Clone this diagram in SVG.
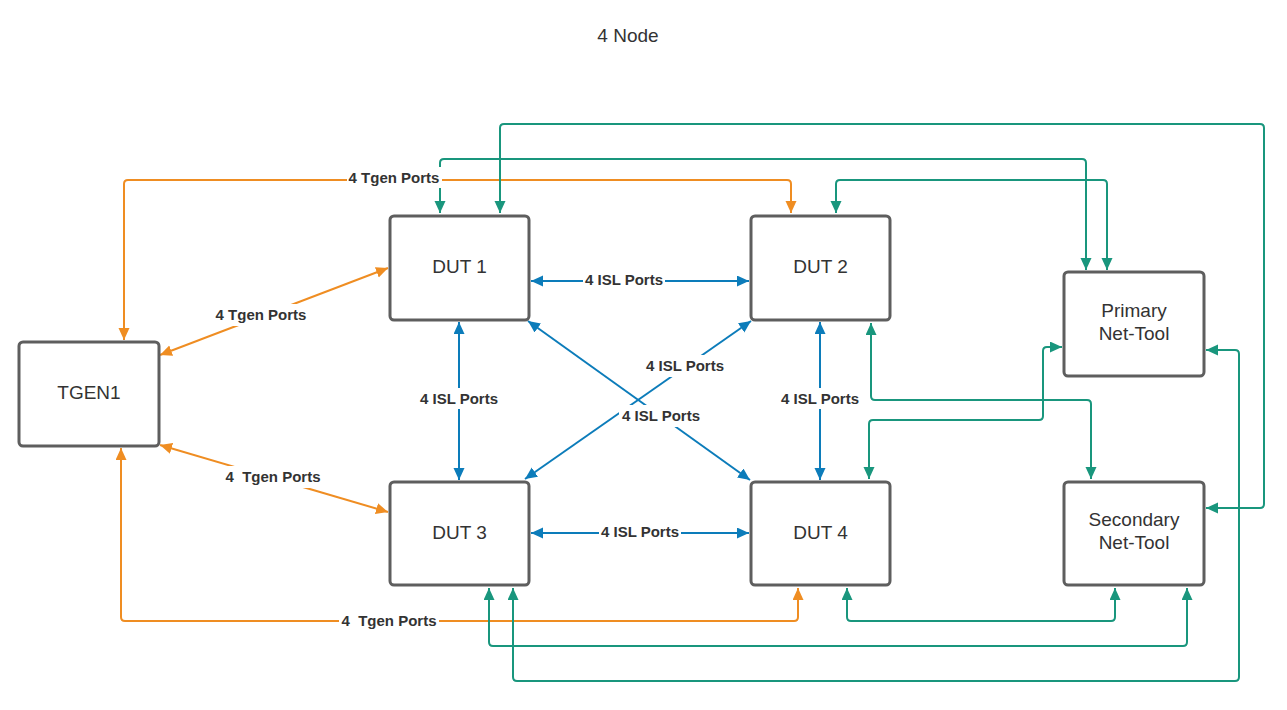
<svg xmlns="http://www.w3.org/2000/svg" width="1287" height="710" viewBox="0 0 1287 710">
<style>
.box{fill:#fff;stroke:#5e5e5e;stroke-width:3}
.nt{font-family:"Liberation Sans",Arial,sans-serif;font-size:19px;fill:#333;text-anchor:middle}
.lb{font-family:"Liberation Sans",Arial,sans-serif;font-size:15px;font-weight:bold;fill:#333;text-anchor:middle;white-space:pre}
.bg{fill:#fff}
.or{fill:none;stroke:#ef8d22;stroke-width:2;marker-start:url(#ao);marker-end:url(#ao)}
.bl{fill:none;stroke:#0c7cba;stroke-width:2;marker-start:url(#ab);marker-end:url(#ab)}
.tl{fill:none;stroke:#19967d;stroke-width:2;marker-start:url(#at);marker-end:url(#at)}
</style>
<defs>
<marker id="ao" markerUnits="userSpaceOnUse" markerWidth="14" markerHeight="12" refX="12" refY="5.5" orient="auto-start-reverse"><path d="M0,0 L12,5.5 L0,11 z" fill="#ef8d22"/></marker>
<marker id="ab" markerUnits="userSpaceOnUse" markerWidth="14" markerHeight="12" refX="12" refY="5.5" orient="auto-start-reverse"><path d="M0,0 L12,5.5 L0,11 z" fill="#0c7cba"/></marker>
<marker id="at" markerUnits="userSpaceOnUse" markerWidth="14" markerHeight="12" refX="12" refY="5.5" orient="auto-start-reverse"><path d="M0,0 L12,5.5 L0,11 z" fill="#19967d"/></marker>
</defs>
<rect width="1287" height="710" fill="#fff"/>
<text class="nt" x="628" y="42">4 Node</text>
<g id="connectors">
<path class="or" d="M791,213 L791,184 Q791,180 787,180 L128,180 Q124,180 124,184 L124,340"/>
<path class="or" d="M160,355 L388,268"/>
<path class="or" d="M160,445 L388,512"/>
<path class="or" d="M121,448 L121,617 Q121,621 125,621 L794,621 Q798,621 798,617 L798,588"/>
<path class="bl" d="M531,281 L749,281"/>
<path class="bl" d="M459,322 L459,480"/>
<path class="bl" d="M820,322 L820,480"/>
<path class="bl" d="M531,533 L749,533"/>
<path class="bl" d="M528,321 L750,480"/>
<path class="bl" d="M751,321 L525,479"/>
<path class="tl" d="M440,213 L440,163 Q440,159 444,159 L1082,159 Q1086,159 1086,163 L1086,270"/>
<path class="tl" d="M500,213 L500,128 Q500,124 504,124 L1260,124 Q1264,124 1264,128 L1264,504 Q1264,508 1260,508 L1206,508"/>
<path class="tl" d="M836,213 L836,184 Q836,180 840,180 L1103,180 Q1107,180 1107,184 L1107,270"/>
<path class="tl" d="M871,323 L871,396 Q871,400 875,400 L1087,400 Q1091,400 1091,404 L1091,479"/>
<path class="tl" d="M869,479 L869,424 Q869,420 873,420 L1039,420 Q1043,420 1043,416 L1043,351 Q1043,347 1047,347 L1062,347"/>
<path class="tl" d="M1206,350 L1235,350 Q1239,350 1239,354 L1239,677 Q1239,681 1235,681 L517,681 Q513,681 513,677 L513,588"/>
<path class="tl" d="M489,588 L489,642 Q489,646 493,646 L1183,646 Q1187,646 1187,642 L1187,588"/>
<path class="tl" d="M847,588 L847,617 Q847,621 851,621 L1111,621 Q1115,621 1115,617 L1115,588"/>
<g id="labels">
<rect class="bg" x="347" y="167" width="95" height="21"/><text class="lb" x="394" y="182.5">4 Tgen Ports</text>
<rect class="bg" x="213" y="304" width="96" height="22"/><text class="lb" x="261" y="319.5">4 Tgen Ports</text>
<rect class="bg" x="223" y="466" width="100" height="22"/><text class="lb" x="273" y="481.5" xml:space="preserve">4  Tgen Ports</text>
<rect class="bg" x="339" y="610" width="100" height="21"/><text class="lb" x="389" y="625.5" xml:space="preserve">4  Tgen Ports</text>
<rect class="bg" x="583" y="270" width="82" height="20"/><text class="lb" x="624" y="284.5">4 ISL Ports</text>
<rect class="bg" x="418" y="388" width="82" height="21"/><text class="lb" x="459" y="403.5">4 ISL Ports</text>
<rect class="bg" x="779" y="388" width="82" height="21"/><text class="lb" x="820" y="403.5">4 ISL Ports</text>
<rect class="bg" x="599" y="522" width="82" height="20"/><text class="lb" x="640" y="536.5">4 ISL Ports</text>
<rect class="bg" x="643" y="355" width="84" height="22"/><text class="lb" x="685" y="370.5">4 ISL Ports</text>
<rect class="bg" x="619" y="405" width="84" height="22"/><text class="lb" x="661" y="420.5">4 ISL Ports</text>
</g>
</g>
<g id="tgen1"><rect class="box" x="19" y="342" width="140" height="104" rx="4"/><text class="nt" x="89" y="398.5">TGEN1</text></g>
<g id="dut1"><rect class="box" x="390" y="216" width="139" height="104" rx="4"/><text class="nt" x="459.5" y="273">DUT 1</text></g>
<g id="dut2"><rect class="box" x="751" y="216" width="139" height="104" rx="4"/><text class="nt" x="820.5" y="273">DUT 2</text></g>
<g id="dut3"><rect class="box" x="390" y="482" width="139" height="103" rx="4"/><text class="nt" x="459.5" y="539">DUT 3</text></g>
<g id="dut4"><rect class="box" x="751" y="482" width="139" height="103" rx="4"/><text class="nt" x="820.5" y="539">DUT 4</text></g>
<g id="primary"><rect class="box" x="1064" y="272" width="140" height="104" rx="4"/><text class="nt" x="1134" y="317">Primary</text><text class="nt" x="1134" y="340">Net-Tool</text></g>
<g id="secondary"><rect class="box" x="1064" y="482" width="140" height="103" rx="4"/><text class="nt" x="1134" y="526">Secondary</text><text class="nt" x="1134" y="549">Net-Tool</text></g>
</svg>
